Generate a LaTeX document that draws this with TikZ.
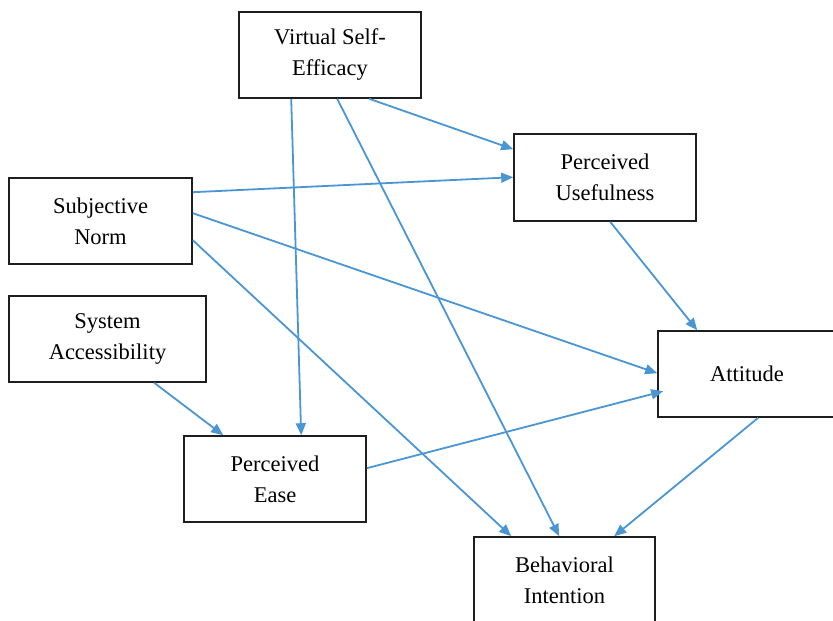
\documentclass[tikz,border=0pt]{standalone}
\usepackage{fontspec}
\setmainfont{Liberation Serif}
\usetikzlibrary{arrows.meta}
\definecolor{arrowblue}{RGB}{74,150,212}
\definecolor{boxline}{RGB}{30,30,30}
\begin{document}
\begin{tikzpicture}[x=1pt,y=-1pt,
  box/.style={draw=boxline,line width=1.6pt,fill=white,align=center,inner sep=0pt,
    font=\fontsize{22.5pt}{31pt}\selectfont},
  link/.style={draw=arrowblue,line width=1.8pt,-{Triangle[length=12pt,width=10pt]}}]
\useasboundingbox (0,0) rectangle (833,621);
\node[box,minimum width=182pt,minimum height=86pt] (vse) at (330,55) {Virtual Self-\\Efficacy};
\node[box,minimum width=182pt,minimum height=87pt] (pu) at (605,177.5) {Perceived\\Usefulness};
\node[box,minimum width=183pt,minimum height=86pt] (sn) at (100.5,221) {Subjective\\Norm};
\node[box,minimum width=197pt,minimum height=86pt] (sa) at (107.5,339) {System\\Accessibility};
\node[box,minimum width=178pt,minimum height=86pt] (att) at (747,374) {Attitude};
\node[box,minimum width=182pt,minimum height=86pt] (pe) at (275,479) {Perceived\\Ease};
\node[box,minimum width=181pt,minimum height=86pt] (bi) at (564.5,580) {Behavioral\\Intention};

\draw[link] ([xshift=131pt]vse.south west) -- ([yshift=-16pt]pu.north west);
\draw[link] ([xshift=53pt]vse.south west) -- ([xshift=118pt]pe.north west);
\draw[link] ([xshift=99pt]vse.south west) -- ([xshift=86pt]bi.north west);
\draw[link] ([yshift=-15pt]sn.north east) -- ([yshift=-44pt]pu.north west);
\draw[link] ([yshift=-36pt]sn.north east) -- ([yshift=-43pt]att.north west);
\draw[link] ([yshift=-63pt]sn.north east) -- ([xshift=38pt]bi.north west);
\draw[link] ([xshift=146pt]sa.south west) -- ([xshift=40pt]pe.north west);
\draw[link] ([xshift=97pt]pu.south west) -- ([xshift=40pt]att.north west);
\draw[link] ([yshift=-33pt]pe.north east) -- ([xshift=6pt,yshift=-61pt]att.north west);
\draw[link] ([xshift=101pt]att.south west) -- ([xshift=141pt]bi.north west);
\end{tikzpicture}
\end{document}
